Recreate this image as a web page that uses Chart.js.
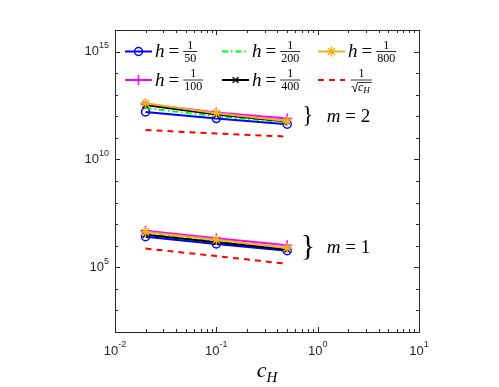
<!DOCTYPE html>
<html>
<head>
<meta charset="utf-8">
<script src="https://cdn.jsdelivr.net/npm/chart.js@4.4.0/dist/chart.umd.min.js"></script>
<style>
  html, body { margin: 0; padding: 0; background: #fff; }
  canvas { display: block; }
</style>
</head>
<body>
<canvas id="errChart" width="499" height="387"></canvas>
<script>
// x values (c_H)
const cH = [0.02, 0.1, 0.5];

// m = 1 group
const h50_m1  = [2.6e6, 1.2e6, 5.9e5];
const h100_m1 = [4.9e6, 2.2e6, 1.05e6];
const h200_m1 = [3.7e6, 1.65e6, 7.2e5];
const h400_m1 = [3.2e6, 1.45e6, 6.6e5];
const h800_m1 = [4.3e6, 1.9e6, 7.8e5];
const ref_m1  = [7.4e5, 3.3e5, 1.45e5];

// m = 2 group
const h50_m2  = [1.6e12, 7.8e11, 4.3e11];
const h100_m2 = [3.7e12, 1.5e12, 7.9e11];
const h200_m2 = [2.4e12, 1.0e12, 5.2e11];
const h400_m2 = [3.3e12, 1.2e12, 5.8e11];
const h800_m2 = [4.0e12, 1.4e12, 6.0e11];
const ref_m2  = [2.3e11, 1.6e11, 1.15e11];

const xTickExps = [-2, -1, 0, 1];
const yTickExps = [5, 10, 15];
const mLabels = [{ m: "2", x: 0.8, y: 1e12 }, { m: "1", x: 0.8, y: 9e5 }];

const axisColor = "#262626";

// styles, listed from top (drawn last) to bottom
const series = [
    { den: "800", m1: h800_m1, m2: h800_m2, color: "#EDB120", point: "star", radius: 5, dash: [] },
    { den: "400", m1: h400_m1, m2: h400_m2, color: "#000000", point: "crossRot", radius: 4, dash: [] },
    { den: "200", m1: h200_m1, m2: h200_m2, color: "#00FF00", point: false, radius: 0, dash: [6, 3, 1.5, 3] },
    { den: "100", m1: h100_m1, m2: h100_m2, color: "#FF00FF", point: "cross", radius: 5, dash: [] },
    { den: "50", m1: h50_m1, m2: h50_m2, color: "#0000FF", point: "circle", radius: 4, dash: [] },
    { den: null, m1: ref_m1, m2: ref_m2, color: "#FF0000", point: false, radius: 0, dash: [6, 5] }
];

const datasets = [];
series.forEach(s => {
    [s.m2, s.m1].forEach(vals => {
        datasets.push({
            data: cH.map((x, i) => ({ x: x, y: vals[i] })),
            borderColor: s.color,
            backgroundColor: "rgba(0,0,0,0)",
            borderWidth: 2,
            borderDash: s.dash,
            pointStyle: s.point || "circle",
            pointRadius: s.radius,
            pointBorderWidth: 1.5,
            pointBorderColor: s.color,
            pointBackgroundColor: "rgba(0,0,0,0)",
            tension: 0
        });
    });
});

function line(ctx, x1, y1, x2, y2) {
    ctx.beginPath();
    ctx.moveTo(x1, y1);
    ctx.lineTo(x2, y2);
    ctx.stroke();
}

function drawPow(ctx, x, y, exp, align) {
    ctx.font = "13px 'Liberation Sans'";
    const wb = ctx.measureText("10").width;
    ctx.font = "9px 'Liberation Sans'";
    const we = ctx.measureText(String(exp)).width;
    const total = wb + we;
    const left = align === "right" ? x - total : x - total / 2;
    ctx.textAlign = "left";
    ctx.textBaseline = "middle";
    ctx.font = "13px 'Liberation Sans'";
    ctx.fillText("10", left, y);
    ctx.font = "9px 'Liberation Sans'";
    ctx.fillText(String(exp), left + wb, y - 6);
}

function drawFrac(ctx, x, y, num, den) {
    ctx.font = "12px 'Liberation Serif'";
    const w = Math.max(ctx.measureText(num).width, ctx.measureText(den).width) + 2;
    ctx.textAlign = "center";
    ctx.textBaseline = "alphabetic";
    ctx.fillText(num, x + w / 2, y - 3);
    ctx.fillText(den, x + w / 2, y + 10);
    ctx.lineWidth = 0.8;
    line(ctx, x, y, x + w, y);
    return w;
}

function drawSample(ctx, x0, y, s) {
    ctx.save();
    ctx.strokeStyle = s.color;
    ctx.lineWidth = 2;
    ctx.setLineDash(s.dash);
    line(ctx, x0, y, x0 + 27, y);
    ctx.setLineDash([]);
    if (s.point) {
        ctx.fillStyle = "rgba(0,0,0,0)";
        ctx.lineWidth = 1.5;
        Chart.helpers.drawPoint(ctx, { pointStyle: s.point, radius: s.radius, borderWidth: 1.5, rotation: 0 }, x0 + 13.5, y);
    }
    ctx.restore();
}

const decorPlugin = {
    id: "decor",
    afterDraw(chart) {
        const ctx = chart.ctx;
        const a = chart.chartArea;
        const xs = chart.scales.x, ys = chart.scales.y;
        ctx.save();
        ctx.strokeStyle = axisColor;
        ctx.fillStyle = axisColor;
        ctx.lineWidth = 1;

        // x ticks (top and bottom, inward)
        for (let e = -2; e <= 1; e++) {
            for (let k = 1; k <= 9; k++) {
                const v = k * Math.pow(10, e);
                if (v > 10) break;
                const px = Math.round(xs.getPixelForValue(v)) + 0.5;
                const len = k === 1 ? 5 : 3;
                line(ctx, px, a.bottom, px, a.bottom - len);
                line(ctx, px, a.top, px, a.top + len);
            }
        }
        // y ticks (left and right, inward)
        for (let e = 2; e <= 16; e++) {
            const py = Math.round(ys.getPixelForValue(Math.pow(10, e))) + 0.5;
            const len = e % 5 === 0 ? 5 : 3;
            line(ctx, a.left, py, a.left + len, py);
            line(ctx, a.right, py, a.right - len, py);
        }
        // box
        ctx.strokeRect(Math.round(a.left) + 0.5, Math.round(a.top) + 0.5,
            Math.round(a.right - a.left), Math.round(a.bottom - a.top));

        // tick labels
        xTickExps.forEach(e => drawPow(ctx, xs.getPixelForValue(Math.pow(10, e)), a.bottom + 19, e, "center"));
        yTickExps.forEach(e => drawPow(ctx, a.left - 6, ys.getPixelForValue(Math.pow(10, e)), e, "right"));

        // x title c_H
        ctx.fillStyle = "#000";
        ctx.textAlign = "left";
        ctx.textBaseline = "alphabetic";
        ctx.font = "italic 22px 'Liberation Serif'";
        const cw = ctx.measureText("c").width;
        ctx.font = "italic 15px 'Liberation Serif'";
        const hw = ctx.measureText("H").width;
        const tx = (a.left + a.right) / 2 - (cw + hw) / 2;
        ctx.font = "italic 22px 'Liberation Serif'";
        ctx.fillText("c", tx, 377);
        ctx.font = "italic 15px 'Liberation Serif'";
        ctx.fillText("H", tx + cw, 382);

        // m annotations
        mLabels.forEach((lab, i) => {
            const px = xs.getPixelForValue(lab.x);
            const py = ys.getPixelForValue(lab.y);
            ctx.textBaseline = "middle";
            ctx.textAlign = "center";
            ctx.font = (i === 0 ? "23px" : "30px") + " 'Liberation Serif'";
            ctx.fillText("}", px, py);
            ctx.textAlign = "left";
            ctx.textBaseline = "alphabetic";
            ctx.font = "italic 19px 'Liberation Serif'";
            ctx.fillText("m", px + 19, py + 6);
            const mw = ctx.measureText("m").width;
            ctx.font = "19px 'Liberation Serif'";
            ctx.fillText(" = " + lab.m, px + 19 + mw, py + 6);
        });

        // legend
        const legendOrder = [
            [series[4], 125, 51.5], [series[2], 222, 51.5], [series[0], 318, 51.5],
            [series[3], 125, 80], [series[1], 222, 80], [series[5], 318, 80]
        ];
        legendOrder.forEach(([s, x0, y]) => {
            drawSample(ctx, x0, y, s);
            ctx.fillStyle = "#000";
            ctx.strokeStyle = "#000";
            let x = x0 + 30;
            if (s.den) {
                ctx.textAlign = "left";
                ctx.textBaseline = "alphabetic";
                ctx.font = "italic 19px 'Liberation Serif'";
                ctx.fillText("h", x, y + 5.5);
                x += ctx.measureText("h").width + 4;
                ctx.font = "19px 'Liberation Serif'";
                ctx.fillText("=", x, y + 5.5);
                x += ctx.measureText("=").width + 4;
                drawFrac(ctx, x, y, "1", s.den);
            } else {
                // 1 / sqrt(c_H)
                x += 3;
                ctx.font = "italic 12px 'Liberation Serif'";
                const cw2 = ctx.measureText("c").width;
                ctx.font = "italic 9px 'Liberation Serif'";
                const hw2 = ctx.measureText("H").width;
                const radW = 7;
                const w = radW + cw2 + hw2 + 2;
                ctx.textAlign = "center";
                ctx.font = "12px 'Liberation Serif'";
                ctx.fillText("1", x + w / 2, y - 3);
                ctx.lineWidth = 0.8;
                line(ctx, x, y, x + w, y);
                // radical sign
                ctx.beginPath();
                ctx.moveTo(x + 0.5, y + 7);
                ctx.lineTo(x + 2, y + 6);
                ctx.lineTo(x + 4, y + 12);
                ctx.lineTo(x + 6.5, y + 2.5);
                ctx.lineTo(x + w, y + 2.5);
                ctx.stroke();
                ctx.textAlign = "left";
                ctx.font = "italic 12px 'Liberation Serif'";
                ctx.fillText("c", x + radW, y + 11);
                ctx.font = "italic 9px 'Liberation Serif'";
                ctx.fillText("H", x + radW + cw2, y + 13);
            }
        });
        ctx.restore();
    }
};

const ctx = document.getElementById("errChart").getContext("2d");
const errChart = new Chart(ctx, {
    type: "line",
    data: { datasets: datasets },
    options: {
        responsive: false,
        animation: false,
        layout: { padding: { left: 115, right: 80, top: 30, bottom: 55 } },
        plugins: { legend: { display: false }, tooltip: { enabled: false } },
        scales: {
            x: { type: "logarithmic", min: 0.01, max: 10, display: false },
            y: { type: "logarithmic", min: 1e2, max: 1e16, display: false }
        }
    },
    plugins: [decorPlugin]
});
</script>
</body>
</html>
